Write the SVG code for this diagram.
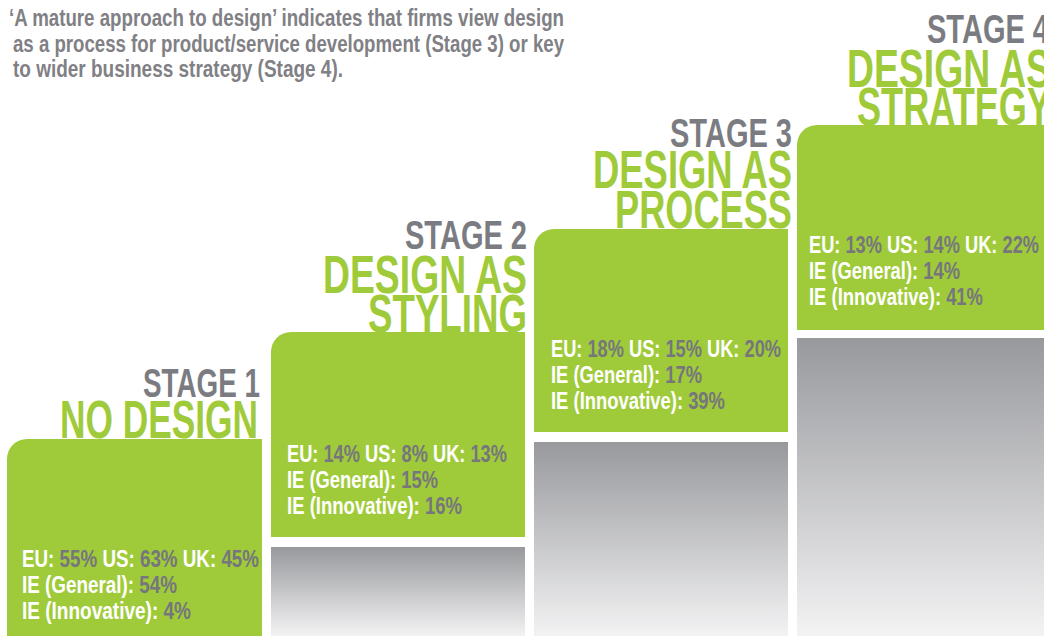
<svg xmlns="http://www.w3.org/2000/svg" width="1044" height="636" viewBox="0 0 1044 636">
<defs>
<linearGradient id="shade" x1="0" y1="0" x2="0" y2="1">
<stop offset="0" stop-color="#98999d"/>
<stop offset="1" stop-color="#f3f3f4"/>
</linearGradient>
<style>
text{font-family:"Liberation Sans","DejaVu Sans",Arial,sans-serif;font-weight:bold}
.box{fill:#9fcb3b}
.shade{fill:url(#shade)}
.intro{font-size:23px;fill:#808085}
.stage{font-size:40px;fill:#7b7c81}
.title{font-size:53px;fill:#9fcb3b}
.stat{font-size:24px;fill:#ffffff}
.v{fill:#76767c}
</style>
</defs>
<rect width="1044" height="636" fill="#ffffff"/>
<g id="intro">
<text class="intro" x="9" y="26" textLength="555" lengthAdjust="spacingAndGlyphs">‘A mature approach to design’ indicates that firms view design</text>
<text class="intro" x="13" y="52" textLength="551" lengthAdjust="spacingAndGlyphs">as a process for product/service development (Stage 3) or key</text>
<text class="intro" x="13" y="77" textLength="330" lengthAdjust="spacingAndGlyphs">to wider business strategy (Stage 4).</text>
</g>
<g id="stage1">
<text class="stage" x="143" y="397" textLength="117" lengthAdjust="spacingAndGlyphs">STAGE 1</text>
<text class="title" x="60" y="438" textLength="198" lengthAdjust="spacingAndGlyphs">NO DESIGN</text>
<path class="box" d="M7 459 A20 20 0 0 1 27 439 H262 V636 H7 Z"/>
<text class="stat" x="22" y="567" textLength="237" lengthAdjust="spacingAndGlyphs">EU: <tspan class="v">55%</tspan> US: <tspan class="v">63%</tspan> UK: <tspan class="v">45%</tspan></text>
<text class="stat" x="22" y="593" textLength="155" lengthAdjust="spacingAndGlyphs">IE (General): <tspan class="v">54%</tspan></text>
<text class="stat" x="22" y="619" textLength="169" lengthAdjust="spacingAndGlyphs">IE (Innovative): <tspan class="v">4%</tspan></text>
</g>
<g id="stage2">
<text class="stage" x="405" y="249" textLength="122" lengthAdjust="spacingAndGlyphs">STAGE 2</text>
<text class="title" x="323" y="293" textLength="204" lengthAdjust="spacingAndGlyphs">DESIGN AS</text>
<text class="title" x="368" y="332" textLength="159" lengthAdjust="spacingAndGlyphs">STYLING</text>
<path class="box" d="M271 352 A20 20 0 0 1 291 332 H525 V537 H271 Z"/>
<rect class="shade" x="271" y="547" width="254" height="89"/>
<text class="stat" x="287" y="462" textLength="220" lengthAdjust="spacingAndGlyphs">EU: <tspan class="v">14%</tspan> US: <tspan class="v">8%</tspan> UK: <tspan class="v">13%</tspan></text>
<text class="stat" x="287" y="488" textLength="151" lengthAdjust="spacingAndGlyphs">IE (General): <tspan class="v">15%</tspan></text>
<text class="stat" x="287" y="514" textLength="175" lengthAdjust="spacingAndGlyphs">IE (Innovative): <tspan class="v">16%</tspan></text>
</g>
<g id="stage3">
<text class="stage" x="670" y="147" textLength="122" lengthAdjust="spacingAndGlyphs">STAGE 3</text>
<text class="title" x="593" y="188" textLength="199" lengthAdjust="spacingAndGlyphs">DESIGN AS</text>
<text class="title" x="615" y="228" textLength="177" lengthAdjust="spacingAndGlyphs">PROCESS</text>
<path class="box" d="M534 249 A20 20 0 0 1 554 229 H788 V432 H534 Z"/>
<rect class="shade" x="534" y="442" width="254" height="194"/>
<text class="stat" x="551" y="357" textLength="230" lengthAdjust="spacingAndGlyphs">EU: <tspan class="v">18%</tspan> US: <tspan class="v">15%</tspan> UK: <tspan class="v">20%</tspan></text>
<text class="stat" x="551" y="383" textLength="151" lengthAdjust="spacingAndGlyphs">IE (General): <tspan class="v">17%</tspan></text>
<text class="stat" x="551" y="409" textLength="174" lengthAdjust="spacingAndGlyphs">IE (Innovative): <tspan class="v">39%</tspan></text>
</g>
<g id="stage4">
<text class="stage" x="927" y="43" textLength="122" lengthAdjust="spacingAndGlyphs">STAGE 4</text>
<text class="title" x="847" y="87" textLength="204" lengthAdjust="spacingAndGlyphs">DESIGN AS</text>
<text class="title" x="857" y="125" textLength="194" lengthAdjust="spacingAndGlyphs">STRATEGY</text>
<path class="box" d="M797 145 A20 20 0 0 1 817 125 H1044 V330 H797 Z"/>
<rect class="shade" x="797" y="338" width="247" height="298"/>
<text class="stat" x="809" y="253" textLength="230" lengthAdjust="spacingAndGlyphs">EU: <tspan class="v">13%</tspan> US: <tspan class="v">14%</tspan> UK: <tspan class="v">22%</tspan></text>
<text class="stat" x="809" y="279" textLength="151" lengthAdjust="spacingAndGlyphs">IE (General): <tspan class="v">14%</tspan></text>
<text class="stat" x="809" y="305" textLength="174" lengthAdjust="spacingAndGlyphs">IE (Innovative): <tspan class="v">41%</tspan></text>
</g>
<g id="connectors"/>
</svg>
